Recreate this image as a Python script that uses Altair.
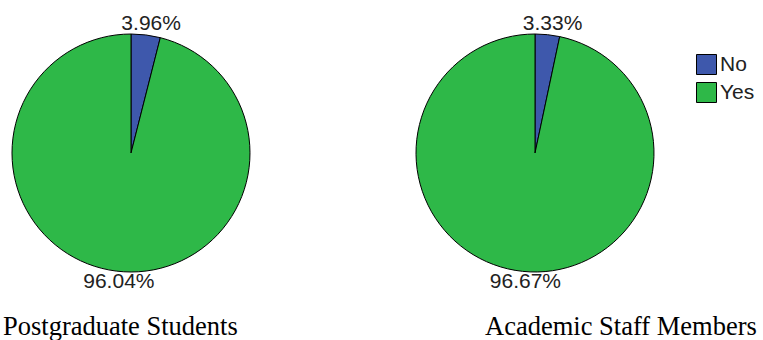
import altair as alt
import pandas as pd

groups = ["Postgraduate Students", "Academic Staff Members"]
answers = ["No", "Yes"]
no_pct = [3.96, 3.33]
yes_pct = [96.04, 96.67]
colors = ["#3E58AC", "#2EB848"]

rows = []
for g, n, y in zip(groups, no_pct, yes_pct):
    rows.append({"group": g, "answer": "No", "order": 0, "pct": n})
    rows.append({"group": g, "answer": "Yes", "order": 1, "pct": y})
df = pd.DataFrame(rows)

base = alt.Chart(df).transform_window(
    end="sum(pct)", groupby=["group"], sort=[alt.SortField("order")]
).transform_calculate(
    start="datum.end - datum.pct",
    mid="datum.end - datum.pct / 2",
    label="format(datum.pct, '.2f') + '%'",
)

xscale = alt.Scale(domain=groups, range=[131, 535], type="point", padding=0)
tscale = alt.Scale(domain=[0, 100], range=[0, 6.283185307179586])

pies = base.mark_arc(radius=119, stroke="black", strokeWidth=1).encode(
    x=alt.X("group:N", scale=xscale, axis=None),
    y=alt.value(153),
    theta=alt.Theta("start:Q", scale=tscale, stack=None),
    theta2="end:Q",
    color=alt.Color(
        "answer:N",
        scale=alt.Scale(domain=answers, range=colors),
        legend=alt.Legend(
            title=None,
            orient="none",
            legendX=696,
            legendY=54,
            symbolType="square",
            symbolSize=400,
            symbolStrokeColor="black",
            symbolStrokeWidth=1,
            labelFont="Liberation Sans",
            labelFontSize=21,
            labelColor="#222222",
            labelOffset=3,
            rowPadding=3,
            symbolOpacity=1,
        ),
    ),
)

labels = base.mark_text(
    font="Liberation Sans", fontSize=21, color="#222222", baseline="middle", dx=4
).encode(
    x=alt.X("group:N", scale=xscale, axis=None),
    y=alt.value(153),
    theta=alt.Theta("mid:Q", scale=tscale, stack=None),
    radius=alt.value(130),
    text="label:N",
)

titles = alt.Chart(pd.DataFrame({"group": groups})).mark_text(
    font="Liberation Serif", fontSize=26.5, color="black", baseline="alphabetic", align="left"
).encode(
    x=alt.X("group:N", scale=alt.Scale(domain=groups, range=[3, 485], type="point", padding=0), axis=None),
    y=alt.value(335),
    text="group:N",
)

chart = alt.layer(pies, labels, titles).resolve_scale(x="independent").properties(
    width=763, height=340, autosize=alt.AutoSizeParams(type="none"), padding=0
).configure_view(stroke=None)

chart.save("out.html", embed_options={"renderer": "svg", "actions": False})
